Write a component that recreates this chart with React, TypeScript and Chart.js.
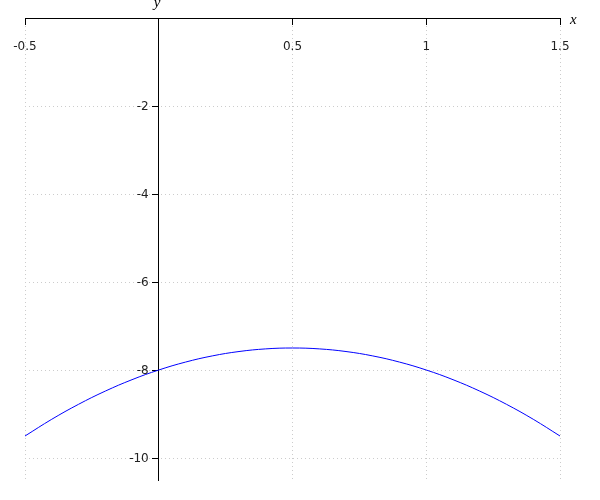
import React, { useEffect, useRef } from "react";
import { Chart, registerables } from "chart.js";

Chart.register(...registerables);

const xValues = [-0.5, -0.4, -0.3, -0.2, -0.1, 0, 0.1, 0.2, 0.3, 0.4, 0.5, 0.6, 0.7, 0.8, 0.9, 1, 1.1, 1.2, 1.3, 1.4, 1.5];
const yValues = [-9.5, -9.12, -8.78, -8.48, -8.22, -8.0, -7.82, -7.68, -7.58, -7.52, -7.5, -7.52, -7.58, -7.68, -7.82, -8.0, -8.22, -8.48, -8.78, -9.12, -9.5];
const xTicks = [-0.5, 0.5, 1, 1.5];
const yTicks = [-10, -8, -6, -4, -2];
const xTickLabels = ["-0.5", "0.5", "1", "1.5"];
const yTickLabels = ["-10", "-8", "-6", "-4", "-2"];
const xAxisName = "x";
const yAxisName = "y";

const axisText = {
  id: "axisText",
  afterDraw(chart: any) {
    const { ctx, scales } = chart;
    const xs = scales.x;
    const ys = scales.y;
    ctx.save();
    // y tick labels, placed left of the y axis (which sits at x = 0)
    ctx.fillStyle = "#222";
    ctx.font = '12px "DejaVu Sans"';
    ctx.textAlign = "right";
    ctx.textBaseline = "middle";
    const axisX = xs.getPixelForValue(0);
    yTicks.forEach((v, i) => {
      ctx.fillText(yTickLabels[i], axisX - 10, ys.getPixelForValue(v) + 1);
    });
    // axis names
    ctx.fillStyle = "#000";
    ctx.font = 'italic 15px "Liberation Serif"';
    ctx.textAlign = "left";
    ctx.textBaseline = "alphabetic";
    ctx.fillText(xAxisName, xs.right + 10, ys.getPixelForValue(0) + 6);
    ctx.fillText(yAxisName, axisX - 5, ys.top - 11);
    ctx.restore();
  },
};

export default function App() {
  const ref = useRef<HTMLCanvasElement | null>(null);
  useEffect(() => {
    document.body.style.margin = "0";
    const c = ref.current;
    if (!c) return;
    const chart = new Chart(c, {
      type: "scatter",
      data: {
        datasets: [
          {
            data: xValues.map((x, i) => ({ x, y: yValues[i] })),
            showLine: true,
            borderColor: "#0000ff",
            borderWidth: 1,
            pointRadius: 0,
            tension: 0.4,
            fill: false,
          },
        ],
      },
      options: {
        animation: false,
        responsive: false,
        maintainAspectRatio: false,
        layout: { padding: { left: 25, right: 40, top: 18, bottom: 20 } },
        plugins: { legend: { display: false }, tooltip: { enabled: false } },
        scales: {
          x: {
            type: "linear",
            min: -0.5,
            max: 1.5,
            position: { y: 0 } as any,
            afterBuildTicks: (s: any) => {
              s.ticks = xTicks.map((v) => ({ value: v }));
            },
            afterFit: (s: any) => {
              s.paddingLeft = 0;
              s.paddingRight = 0;
            },
            ticks: {
              autoSkip: false,
              maxRotation: 0,
              padding: 16,
              color: "#222",
              font: { family: "DejaVu Sans", size: 12 },
              callback: (v: any) => {
                const i = xTicks.indexOf(Number(v));
                return i >= 0 ? xTickLabels[i] : "";
              },
            },
            grid: {
              color: "#cccccc",
              lineWidth: 1,
              tickColor: "#000",
              tickLength: 6,
              drawTicks: true,
            },
            border: { display: true, color: "#000", width: 1, dash: [1, 3] },
          },
          y: {
            type: "linear",
            min: -10.5,
            max: 0,
            position: { x: 0 } as any,
            afterBuildTicks: (s: any) => {
              s.ticks = yTicks.map((v) => ({ value: v }));
            },
            afterFit: (s: any) => {
              s.paddingTop = 0;
              s.paddingBottom = 0;
            },
            ticks: {
              display: false,
              autoSkip: false,
            },
            grid: {
              color: "#cccccc",
              lineWidth: 1,
              tickColor: "#000",
              tickLength: 6,
              drawTicks: true,
            },
            border: { display: true, color: "#000", width: 1, dash: [1, 3] },
          },
        },
      },
      plugins: [axisText],
    });
    return () => chart.destroy();
  }, []);
  return (
    <div style={{ position: "absolute", left: 0, top: 0, width: 600, height: 500 }}>
      <canvas ref={ref} width={600} height={500} style={{ width: 600, height: 500 }} />
    </div>
  );
}
